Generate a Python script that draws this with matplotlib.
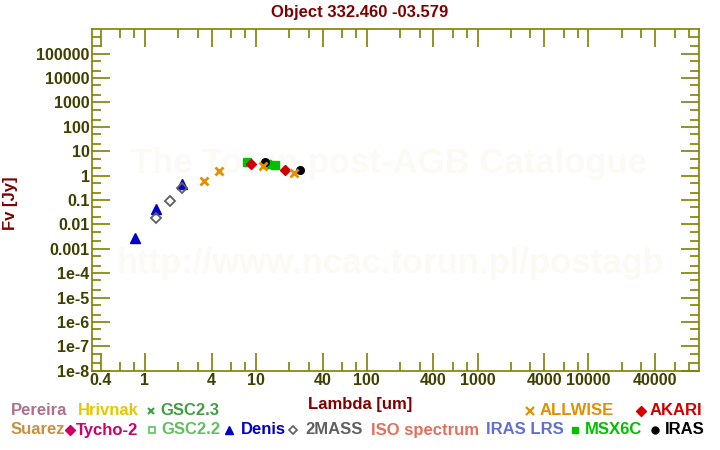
import matplotlib
matplotlib.use('Agg')
import matplotlib.pyplot as plt
from matplotlib.lines import Line2D
from matplotlib.ticker import FixedLocator, NullFormatter

plt.rcParams['font.family'] = ['Liberation Sans', 'DejaVu Sans']
plt.rcParams['font.weight'] = 'bold'

# photometry (lambda in um, Fv in Jy)
denis_wl = [0.82, 1.256, 2.17]
denis_fv = [0.00265, 0.041, 0.457]
twomass_wl = [1.26, 1.69, 2.17]
twomass_fv = [0.0175, 0.0894, 0.313]
allwise_wl = [3.42, 4.67, 11.6, 22.1]
allwise_fv = [0.63, 1.62, 2.43, 1.34]
msx_wl = [8.35, 12.5, 14.9]
msx_fv = [3.78, 2.93, 2.85]
akari_wl = [9.07, 18.4]
akari_fv = [3.13, 1.78]
iras_wl = [12.2, 25.1]
iras_fv = [3.54, 1.78]

x_major = [0.4, 1, 4, 10, 40, 100, 400, 1000, 4000, 10000, 40000]
x_labels = ['0.4', '1', '4', '10', '40', '100', '400', '1000', '4000', '10000', '40000']
x_minor = [0.6, 0.8] + [m * 10 ** k for k in range(0, 5) for m in (2, 3, 6, 8)]
y_major = [10.0 ** k for k in range(-8, 6)]
y_labels = ['1e-8', '1e-7', '1e-6', '1e-5', '1e-4', '0.001', '0.01', '0.1',
            '1', '10', '100', '1000', '10000', '100000']
y_minor = [m * 10.0 ** k for k in range(-8, 6) for m in (2, 5)]

W, H = 720, 450
axcol = '#808000'
labcol = '#404000'
red = '#800000'

fig = plt.figure(figsize=(7.2, 4.5), dpi=100)
ax = fig.add_axes([92.3 / W, 1 - 370.7 / H, (699.3 - 92.3) / W, (370.7 - 29.3) / H])
ax.set_xscale('log')
ax.set_yscale('log')
ax.set_xlim(0.335, 1e5)
ax.set_ylim(1e-8, 1e6)

# watermark
ax.text(0.5 + (389 - 396) / 607, 1 - (164 - 29.3) / 341.4, 'The Torun post-AGB Catalogue',
        transform=ax.transAxes, ha='center', va='center', fontsize=25,
        color='#fbfaf5', zorder=0)
ax.text(0.5 + (391 - 396) / 607, 1 - (264 - 29.3) / 341.4, 'http://www.ncac.torun.pl/postagb',
        transform=ax.transAxes, ha='center', va='center', fontsize=25,
        color='#fbfaf5', zorder=0)

ax.plot(denis_wl, denis_fv, '^', color='#0000c8', ms=7, ls='none')
ax.plot(twomass_wl, twomass_fv, 'D', mfc='none', mec='#606060', mew=1.3, ms=5, ls='none')
ax.plot(msx_wl, msx_fv, 's', color='#00c000', ms=5.5, ls='none')
ax.plot(akari_wl, akari_fv, 'D', color='#d00000', ms=5.5, ls='none')
ax.plot(iras_wl, iras_fv, 'o', color='black', ms=5.5, ls='none')
ax.plot(allwise_wl, allwise_fv, 'x', color='#e09000', ms=6, mew=2, ls='none')

for s in ax.spines.values():
    s.set_color(axcol)
    s.set_linewidth(1.2)
ax.xaxis.set_major_locator(FixedLocator(x_major))
ax.xaxis.set_minor_locator(FixedLocator(x_minor))
ax.xaxis.set_minor_formatter(NullFormatter())
ax.set_xticklabels(x_labels)
ax.yaxis.set_major_locator(FixedLocator(y_major))
ax.yaxis.set_minor_locator(FixedLocator(y_minor))
ax.yaxis.set_minor_formatter(NullFormatter())
ax.set_yticklabels(y_labels)
ax.tick_params(which='both', direction='in', top=True, right=True, color=axcol,
               width=1.2, labelcolor=labcol, labelsize=11.5, pad=2)
ax.tick_params(which='major', length=13)
ax.tick_params(which='minor', length=6.5)

fig.text(360 / W, 1 - 12 / H, 'Object 332.460 -03.579', ha='center', va='center',
         fontsize=12, color=red)
fig.text(10 / W, 1 - 203 / H, 'Fv [Jy]', ha='center', va='center', rotation=90,
         fontsize=12, color=red)
fig.text(360.5 / W, 1 - 405 / H, 'Lambda [um]', ha='center', va='center',
         fontsize=12, color=red)

# legend: (name, colour, marker, marker kwargs, marker x, text x, row y)
legend = [
    ('Pereira', '#b0708a', None, None, 0, 11, 410.5),
    ('Hrivnak', '#e6c800', None, None, 0, 77.7, 410.5),
    ('GSC2.3', '#40a040', 'x', dict(ms=4.5, mew=1.5), 150.7, 160.7, 410.5),
    ('ALLWISE', '#e09000', 'x', dict(ms=6, mew=1.6), 530.3, 540, 410.5),
    ('AKARI', '#d00000', 'D', dict(ms=5), 641, 650, 410.5),
    ('Suarez', '#c89040', None, None, 0, 11, 430),
    ('Tycho-2', '#d0006a', 'D', dict(ms=5), 69.7, 76, 430),
    ('GSC2.2', '#60c060', 's', dict(ms=4.5, mfc='none', mew=1.2), 151.7, 161, 430),
    ('Denis', '#0000c8', '^', dict(ms=5.5), 228.7, 240.7, 430),
    ('2MASS', '#606060', 'D', dict(ms=4.5, mfc='none', mew=1.2), 293.3, 305.7, 430),
    ('ISO spectrum', '#e07060', None, None, 0, 371, 430),
    ('IRAS LRS', '#6070d0', None, None, 0, 485.7, 430),
    ('MSX6C', '#00c000', 's', dict(ms=5), 575.3, 585, 430),
    ('IRAS', 'black', 'o', dict(ms=5), 655, 665, 430),
]
for name, col, mk, kw, mx, tx, ry in legend:
    fig.text(tx / W, 1 - ry / H, name, ha='left', va='center', fontsize=12, color=col)
    if mk is not None:
        opts = dict(color=col, ls='none')
        opts.update(kw)
        fig.add_artist(Line2D([mx / W], [1 - ry / H], marker=mk, transform=fig.transFigure, **opts))

fig.savefig('out.png', dpi=100, facecolor='white')
